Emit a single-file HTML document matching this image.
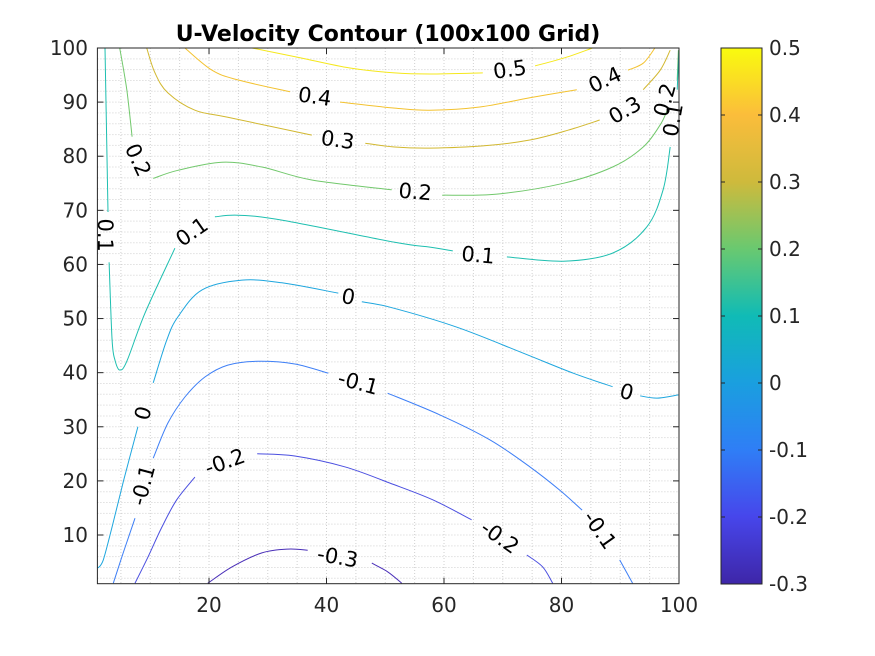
<!DOCTYPE html>
<html><head><meta charset="utf-8"><style>
body{margin:0;background:#fff;}
svg{display:block;font-family:"DejaVu Sans","Liberation Sans",sans-serif;}
</style></head><body>
<svg id="chart" width="875" height="656">
<defs>
<linearGradient id="parula" x1="0" y1="1" x2="0" y2="0">
<stop offset="0" stop-color="#3e26a8"/><stop offset="0.125" stop-color="#4746eb"/>
<stop offset="0.25" stop-color="#2f7ef6"/><stop offset="0.375" stop-color="#1a9fdf"/>
<stop offset="0.5" stop-color="#10bbb6"/><stop offset="0.625" stop-color="#69c970"/>
<stop offset="0.75" stop-color="#ceba3c"/><stop offset="0.875" stop-color="#fbbd3b"/>
<stop offset="1" stop-color="#f9fb0e"/>
</linearGradient>
</defs>
<text x="388" y="41" text-anchor="middle" font-size="22" font-weight="bold" fill="#000">U-Velocity Contour (100x100 Grid)</text>
<g id="grid"></g>
<g id="lines"></g>
<g id="labels"></g>
<rect x="97.4" y="48" width="581.6" height="535.7" fill="none" stroke="#262626" stroke-width="1"/>
<g id="axes"></g>
<rect x="721" y="48" width="41" height="536" fill="url(#parula)" stroke="#262626" stroke-width="1"/>
<g id="cbticks"></g>
</svg>
<script>
const xTicks=[20,40,60,80,100];
const yTicks=[10,20,30,40,50,60,70,80,90,100];
const cbTicks=[-0.3,-0.2,-0.1,0,0.1,0.2,0.3,0.4,0.5];
const levels=[0.5,0.4,0.3,0.2,0.1,0,-0.1,-0.2,-0.3];
const levelColors=["#f5e81c","#f3c230","#d2b830","#72c86c","#1ebfb0","#1ea6de","#3e7ff6","#4b4fe0","#4a2fb8"];
const c05=[[[27.3,100],[35.5,98.2],[44.0,96.3],[51.6,95.4],[57.6,95.2],[66.6,95.4]],[[75.5,96.7],[80.6,98.2],[85.3,100]]];
const c04=[[[15.9,100],[20.5,95.9],[24.9,94.1],[33.8,91.9]],[[42.3,90.0],[51.6,88.9],[57.6,88.5],[66.1,89.1],[74.6,90.8],[82.6,92.3]],[[91.3,95.9],[93.9,97.2],[95.9,100]]];
const c03=[[[9.4,100],[10.8,95.4],[13.0,91.7],[17.6,88.5],[23.2,87.2],[37.5,83.9]],[[46.6,82.4],[51.6,81.7],[57.6,81.5],[66.6,81.9],[74.6,83.0],[81.1,84.8],[86.5,86.7]],[[93.9,92.3],[96.8,95.9],[98.5,99.6]]];
const c02=[[[4.8,100],[6.0,92.3],[6.9,83.6]],[[10.5,75.9],[14.7,77.4],[22.2,78.9],[29.0,78.0],[37.5,75.6],[51.1,73.8]],[[59.7,72.8],[69.0,73.0],[80.3,75.0],[88.7,78.0],[93.9,81.7],[96.8,85.8],[98.0,88.5]],[[99.7,94.1],[99.9,99.6]]];
const c01=[[[2.3,100],[2.8,69.7]],[[3.0,60.4],[3.5,46.0],[4.0,42.3],[4.8,40.5],[6.0,42.1],[9.1,51.0],[14.2,63.0]],[[21.0,68.8],[24.9,69.1],[32.4,68.2],[51.6,64.1],[57.6,63.2],[61.5,62.5]],[[70.7,61.4],[80.3,60.6],[88.7,62.1],[94.5,66.9],[97.3,73.8],[98.5,81.7]],[[99.7,92.3],[100,99.6]]];
const c00=[[[1.1,3.9],[2.0,5.4],[3.5,11.5],[5.5,20.2],[7.9,30.0]],[[10.5,38.1],[12.8,46.0],[14.7,50.3],[18.8,55.3],[25.6,57.1],[32.4,56.6],[42.0,54.7]],[[46.0,53.1],[50.8,52.1],[62.2,48.4],[73.5,43.6],[82.0,39.9],[88.7,37.4]],[[93.4,35.7],[96.3,35.3],[99.9,35.9]]];
const cm01=[[[3.7,1.1],[5.4,6.7],[7.4,13.1]],[[10.5,24.2],[13.0,30.7],[15.9,35.5],[19.3,39.2],[23.2,41.4],[28.3,42.1],[34.6,41.6],[40.3,39.9]],[[50.4,36.2],[59.3,32.2],[67.8,27.6],[74.6,22.6],[79.7,18.3],[83.5,14.6]],[[89.9,5.4],[92.1,1.1]]];
const cm02=[[[7.4,1.1],[9.6,5.9],[12.0,11.5],[14.5,16.5],[17.6,20.7]],[[28.2,25.0],[34.6,24.6],[43.1,22.6],[50.8,19.6],[58.1,16.5],[64.7,12.8]],[[74.1,6.3],[76.8,4.1],[78.5,1.1]]];
const cm03=[[[19.8,1.1],[23.9,4.1],[29.0,6.7],[33.4,7.4],[36.8,7.2]],[[47.7,4.8],[50.4,3.2],[52.8,1.1]]];
const contours=[c05,c04,c03,c02,c01,c00,cm01,cm02,cm03];
const labX=[71.2,38.0,87.4,41.9,90.8,7.9,55.1,97.6,2.3,17.1,65.8,99.0,8.8,43.7,91.1,8.8,45.4,86.5,22.7,69.5,41.9];
const labY=[96.0,91.0,94.1,83.0,88.5,79.3,73.4,90.4,65.4,66.0,61.7,86.7,32.5,54.0,36.4,19.2,38.1,10.9,23.5,9.6,5.9];
const labT=["0.5","0.4","0.4","0.3","0.3","0.2","0.2","0.2","0.1","0.1","0.1","0.1","0","0","0","-0.1","-0.1","-0.1","-0.2","-0.2","-0.3"];
const labAngle=[-8,8,-25,8,-30,65,5,-75,90,-35,5,-80,-75,10,15,-75,15,55,-20,35,10];

const NS="http://www.w3.org/2000/svg";
const X0=97.4,X1=679,Y0=583.7,Y1=48;
const sx=v=>X0+(v-1)/99*(X1-X0);
const sy=v=>Y0-(v-1)/99*(Y0-Y1);
const cy=v=>584-(v+0.3)/0.8*536;
function mk(tag,attrs,parent){const e=document.createElementNS(NS,tag);for(const k in attrs)e.setAttribute(k,attrs[k]);parent.appendChild(e);return e;}
function smooth(pts){
  if(pts.length<3)return 'M'+pts.map(p=>p[0].toFixed(1)+','+p[1].toFixed(1)).join(' L');
  let d='M'+pts[0][0].toFixed(1)+','+pts[0][1].toFixed(1);
  for(let i=0;i<pts.length-1;i++){
    const p0=pts[i-1]||pts[i],p1=pts[i],p2=pts[i+1],p3=pts[i+2]||p2;
    const c1=[p1[0]+(p2[0]-p0[0])/6,p1[1]+(p2[1]-p0[1])/6];
    const c2=[p2[0]-(p3[0]-p1[0])/6,p2[1]-(p3[1]-p1[1])/6];
    d+=` C${c1[0].toFixed(1)},${c1[1].toFixed(1)} ${c2[0].toFixed(1)},${c2[1].toFixed(1)} ${p2[0].toFixed(1)},${p2[1].toFixed(1)}`;
  }
  return d;
}
const grid=document.getElementById('grid');
for(let v=5;v<100;v+=5){const l=mk('line',{x1:sx(v),x2:sx(v),y1:Y1,y2:Y0,stroke:'#d0d0d0','stroke-width':1,'stroke-dasharray':'1,2'},grid);

}
for(let v=2;v<100;v+=2){const l=mk('line',{x1:X0,x2:X1,y1:sy(v),y2:sy(v),stroke:'#d0d0d0','stroke-width':1,'stroke-dasharray':'1,2'},grid);

}
const lines=document.getElementById('lines');
contours.forEach((segs,i)=>{segs.forEach(seg=>{
const p=mk('path',{d:smooth(seg.map(q=>[sx(q[0]),sy(q[1])])),fill:'none',stroke:levelColors[i],'stroke-width':1},lines);


});});
const labs=document.getElementById('labels');
labT.forEach((t,i)=>{const x=sx(labX[i]),y=sy(labY[i]);
const e=mk('text',{x:x,y:y,'text-anchor':'middle','dominant-baseline':'central','font-size':21,fill:'#000',transform:`rotate(${labAngle[i]} ${x} ${y})`},labs);
e.textContent=t;

});
const ax=document.getElementById('axes');
xTicks.forEach(v=>{const x=sx(v);
mk('line',{x1:x,x2:x,y1:Y0,y2:Y0-6,stroke:'#262626'},ax);mk('line',{x1:x,x2:x,y1:Y1,y2:Y1+6,stroke:'#262626'},ax);
const t=mk('text',{x:x,y:612,'text-anchor':'middle','font-size':20,fill:'#262626'},ax);t.textContent=v;

});
yTicks.forEach(v=>{const y=sy(v);
mk('line',{x1:X0,x2:X0+6,y1:y,y2:y,stroke:'#262626'},ax);mk('line',{x1:X1,x2:X1-6,y1:y,y2:y,stroke:'#262626'},ax);
const t=mk('text',{x:88,y:y+7,'text-anchor':'end','font-size':20,fill:'#262626'},ax);t.textContent=v;

});
const cb=document.getElementById('cbticks');
cbTicks.forEach(v=>{const y=cy(v);
mk('line',{x1:721,x2:725,y1:y,y2:y,stroke:'#262626'},cb);mk('line',{x1:762,x2:758,y1:y,y2:y,stroke:'#262626'},cb);
const t=mk('text',{x:769,y:y+7,'font-size':20,fill:'#262626'},cb);t.textContent=(Math.round(v*10)/10).toString();

});
</script>
</body></html>
